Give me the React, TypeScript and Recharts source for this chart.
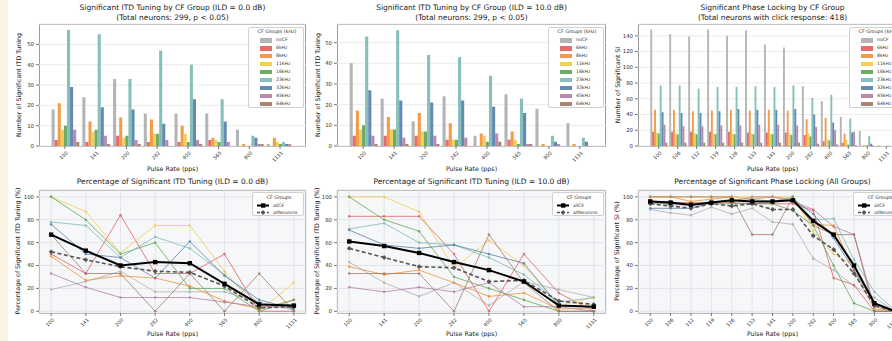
import React from "react";
import { BarChart, Bar, LineChart, Line, XAxis, YAxis, CartesianGrid } from "recharts";

const FONT = "'DejaVu Sans', sans-serif";

const GROUPS = ["noCF", "6kHz", "8kHz", "11kHz", "16kHz", "23kHz", "32kHz", "45kHz", "64kHz"];
const GROUP_COLORS = ["#ababab", "#e15759", "#f28e2b", "#edc948", "#59a14f", "#76b7b2", "#4e79a7", "#b07aa1", "#9c755f"];

const ITD_RATES = ["100", "141", "200", "282", "400", "565", "800", "1131"];
const PL_RATES = ["100", "106", "112", "119", "126", "133", "141", "200", "282", "400", "565", "800", "1131"];

// counts of significant neurons, rows follow GROUPS
const itd0Counts = [
  [18, 24, 33, 16, 16, 16, 8, 1],
  [3, 2, 5, 2, 2, 3, 0, 0],
  [21, 12, 14, 13, 10, 4, 1, 4],
  [8, 7, 4, 6, 6, 3, 0, 2],
  [10, 8, 5, 6, 2, 2, 0, 1],
  [57, 55, 33, 47, 40, 23, 5, 2],
  [29, 19, 18, 11, 23, 12, 4, 1],
  [8, 5, 3, 3, 3, 2, 1, 1],
  [2, 1, 1, 0, 1, 0, 1, 0],
];
const itd10Counts = [
  [40, 23, 12, 24, 5, 25, 18, 11],
  [5, 5, 5, 3, 0, 3, 0, 0],
  [17, 14, 16, 11, 6, 7, 1, 1],
  [8, 8, 7, 3, 5, 3, 0, 0],
  [10, 8, 7, 3, 2, 1, 0, 0],
  [53, 56, 44, 43, 34, 23, 5, 4],
  [27, 22, 21, 22, 19, 16, 2, 2],
  [5, 4, 5, 4, 6, 1, 1, 0],
  [1, 1, 1, 0, 2, 1, 0, 0],
];
const plCounts = [
  [148, 142, 139, 148, 140, 147, 129, 125, 76, 57, 37, 19, 1],
  [18, 18, 18, 18, 18, 17, 17, 17, 14, 6, 4, 0, 0],
  [46, 46, 44, 45, 46, 45, 46, 45, 34, 36, 16, 1, 0],
  [17, 16, 16, 16, 16, 16, 16, 16, 16, 9, 8, 1, 0],
  [16, 15, 15, 15, 15, 15, 15, 14, 12, 7, 2, 1, 0],
  [77, 77, 73, 75, 75, 76, 75, 77, 61, 65, 35, 13, 1],
  [43, 42, 42, 44, 47, 46, 46, 47, 40, 30, 17, 3, 0],
  [27, 25, 25, 26, 26, 27, 27, 26, 24, 20, 18, 1, 0],
  [4, 4, 4, 4, 4, 4, 4, 4, 3, 2, 1, 0, 0],
];

// percentages, rows follow GROUPS
const itd0Pct = [
  [19, 26, 35, 17, 17, 17, 8, 1],
  [50, 33, 84, 33, 33, 50, 0, 0],
  [48, 27, 31, 29, 22, 9, 2, 10],
  [100, 87, 51, 75, 75, 35, 0, 25],
  [100, 80, 50, 60, 20, 20, 0, 10],
  [78, 75, 47, 65, 55, 32, 7, 3],
  [76, 50, 47, 29, 61, 31, 10, 2],
  [33, 21, 12, 12, 12, 8, 4, 4],
  [67, 33, 33, 0, 33, 0, 33, 0],
];
const itd0AllCF = [67, 53, 40, 43, 42, 24, 6, 5];
const itd0AllNeurons = [52, 45, 39, 35, 34, 22, 3, 4];

const itd10Pct = [
  [43, 25, 13, 25, 5, 26, 19, 12],
  [83, 83, 83, 50, 0, 50, 16, 0],
  [39, 32, 36, 25, 13, 16, 2, 3],
  [100, 100, 87, 38, 62, 40, 5, 12],
  [100, 80, 70, 30, 20, 10, 0, 0],
  [72, 77, 60, 58, 47, 32, 8, 12],
  [71, 58, 55, 58, 50, 42, 5, 4],
  [21, 17, 21, 17, 25, 4, 4, 0],
  [33, 33, 33, 0, 67, 25, 0, 0],
];
const itd10AllCF = [61, 57, 51, 43, 36, 26, 5, 4];
const itd10AllNeurons = [55, 47, 39, 38, 26, 27, 9, 6];

const plPct = [
  [89, 86, 84, 91, 85, 90, 78, 76, 46, 36, 22, 12, 0],
  [95, 95, 95, 95, 95, 94, 94, 94, 88, 29, 23, 0, 0],
  [100, 100, 96, 98, 100, 98, 100, 98, 76, 75, 35, 2, 0],
  [100, 100, 100, 100, 100, 100, 100, 100, 70, 50, 40, 5, 0],
  [94, 94, 94, 94, 94, 94, 94, 88, 75, 40, 7, 0, 0],
  [96, 96, 93, 96, 96, 98, 96, 100, 80, 81, 45, 17, 1],
  [90, 90, 90, 95, 97, 96, 96, 98, 85, 64, 36, 7, 0],
  [97, 93, 93, 96, 96, 100, 100, 96, 89, 74, 67, 4, 0],
  [100, 100, 100, 100, 100, 67, 67, 100, 75, 67, 67, 0, 0],
];
const plAllCF = [96, 95, 93, 95, 97, 96, 96, 97, 79, 67, 40, 7, 0];
const plAllNeurons = [94, 92, 90, 94, 92, 94, 89, 89, 66, 54, 33, 5, 0];

const COUNT_TICKS_ITD = [0, 10, 20, 30, 40, 50];
const COUNT_TICKS_PL = [0, 20, 40, 60, 80, 100, 120, 140];
const PCT_TICKS = [0, 20, 40, 60, 80, 100];

// layout
const PANEL_X = [39, 337, 638];
const PANEL_W = [267, 269, 269];
const TOP_Y = 24;
const TOP_H = 122;
const BOT_Y = 190;
const BOT_H = 123;
const YW = 26;
const XH = 24;
const PAD_T = 6;

function SlantTick({ x, y, payload }: any) {
  const s = String(payload.value);
  const px = x + 0.5;
  const py = y - 0.5;
  return (
    <text x={px} y={py} transform={`rotate(-45 ${px} ${py})`} textAnchor="end" dominantBaseline="hanging"
      fontSize={5} fill="#333" fontFamily={FONT}>{s}</text>
  );
}

const yTick = { fontSize: 5.4, fill: "#333", fontFamily: FONT };

function Frame({ x, y, w, h, bg }: { x: number; y: number; w: number; h: number; bg: string }) {
  return <div style={{ position: "absolute", left: x, top: y, width: w, height: h, boxSizing: "border-box", border: "1px solid #9a9a9a", background: bg }} />;
}

function Text({ x, y, size, children, rotate }: { x: number; y: number; size: number; children: React.ReactNode; rotate?: boolean }) {
  return (
    <div style={{ position: "absolute", left: x, top: y, transform: `translate(-50%,-50%)${rotate ? " rotate(-90deg)" : ""}`, whiteSpace: "nowrap", fontSize: size, fontFamily: FONT, color: "#222", lineHeight: 1 }}>
      {children}
    </div>
  );
}

function BarPanel({ idx, rates, counts, yMax, ticks }: { idx: number; rates: string[]; counts: number[][]; yMax: number; ticks: number[] }) {
  const fx = PANEL_X[idx];
  const fw = PANEL_W[idx];
  const n = rates.length;
  const unit = fw / ((n - 1 + 0.9) * 1.1);
  const pad = (0.05 * (n - 1 + 0.9) - 0.05) * unit;
  const data = rates.map((r, i) => {
    const row: Record<string, any> = { rate: r };
    counts.forEach((c, g) => (row["g" + g] = c[i]));
    return row;
  });
  return (
    <div style={{ position: "absolute", left: fx - YW, top: TOP_Y - PAD_T }}>
      <BarChart width={fw + YW + 1} height={TOP_H + PAD_T + XH} data={data} margin={{ top: PAD_T, right: 1, left: 0, bottom: 0 }}
        barCategoryGap={0} barGap={0} barSize={unit * 0.1}>
        <CartesianGrid vertical={false} stroke="#ececec" />
        <XAxis dataKey="rate" height={XH} interval={0} tickSize={3} axisLine={false} tickLine={{ stroke: "#777" }}
          tick={<SlantTick />} padding={{ left: pad, right: pad }} />
        <YAxis width={YW} domain={[0, yMax]} ticks={ticks} interval={0} allowDataOverflow tickSize={3} axisLine={false}
          tickLine={{ stroke: "#777" }} tick={yTick} />
        {GROUPS.map((g, i) => (
          <Bar key={g} dataKey={"g" + i} name={g} fill={GROUP_COLORS[i]} fillOpacity={0.88} isAnimationActive={false} />
        ))}
      </BarChart>
    </div>
  );
}

function squareDot(p: any) {
  return <rect key={`sq-${p.index}`} x={p.cx - 2.2} y={p.cy - 2.2} width={4.4} height={4.4} fill="#000" />;
}
function diamondDot(p: any) {
  const r = 2.4;
  return <path key={`dm-${p.index}`} d={`M${p.cx},${p.cy - r}L${p.cx + r},${p.cy}L${p.cx},${p.cy + r}L${p.cx - r},${p.cy}Z`} fill="#555" />;
}

function LinePanel({ idx, rates, pct, allCF, allNeurons }: { idx: number; rates: string[]; pct: number[][]; allCF: number[]; allNeurons: number[] }) {
  const fx = PANEL_X[idx];
  const fw = PANEL_W[idx];
  const pad = fw / 22;
  const data = rates.map((r, i) => {
    const row: Record<string, any> = { rate: r, allCF: allCF[i], allNeurons: allNeurons[i] };
    pct.forEach((c, g) => (row["g" + g] = c[i]));
    return row;
  });
  return (
    <div style={{ position: "absolute", left: fx - YW, top: BOT_Y - PAD_T }}>
      <LineChart width={fw + YW + 1} height={BOT_H + PAD_T + XH} data={data} margin={{ top: PAD_T, right: 1, left: 0, bottom: 0 }}>
        <CartesianGrid stroke="#e2e4e8" />
        <XAxis dataKey="rate" height={XH} interval={0} tickSize={3} axisLine={false} tickLine={{ stroke: "#777" }}
          tick={<SlantTick />} padding={{ left: pad, right: pad }} />
        <YAxis width={YW} domain={[-1.5, 106]} ticks={PCT_TICKS} interval={0} allowDataOverflow tickSize={3} axisLine={false}
          tickLine={{ stroke: "#777" }} tick={yTick} />
        {GROUPS.map((g, i) => (
          <Line key={g} dataKey={"g" + i} name={g} stroke={GROUP_COLORS[i]} strokeOpacity={0.75} strokeWidth={1}
            dot={{ r: 1.3, fill: GROUP_COLORS[i], stroke: "none", fillOpacity: 0.75 }} isAnimationActive={false} />
        ))}
        <Line dataKey="allNeurons" stroke="#555" strokeWidth={1.6} strokeDasharray="4 2.5" dot={diamondDot} isAnimationActive={false} />
        <Line dataKey="allCF" stroke="#000" strokeWidth={2} dot={squareDot} isAnimationActive={false} />
      </LineChart>
    </div>
  );
}

function BarLegend({ idx }: { idx: number }) {
  const right = PANEL_X[idx] + PANEL_W[idx];
  return (
    <div style={{ position: "absolute", left: right - 58, top: 27, width: 56, height: 81, boxSizing: "border-box", border: "1px solid #d0d0d0", borderRadius: 2, background: "rgba(255,255,255,0.85)", fontFamily: FONT, color: "#333" }}>
      <div style={{ position: "absolute", left: 0, width: 56, top: 2, textAlign: "center", fontSize: 4.8, lineHeight: 1 }}>CF Groups (kHz)</div>
      {GROUPS.map((g, i) => (
        <div key={g} style={{ position: "absolute", left: 11, top: 12.3 + i * 7.95 - 3, height: 6, display: "flex", alignItems: "center", fontSize: 4.6, lineHeight: 1 }}>
          <span style={{ display: "inline-block", width: 12, height: 4.5, background: GROUP_COLORS[i], opacity: 0.88, marginRight: 4 }} />
          {g}
        </div>
      ))}
    </div>
  );
}

function LineLegend({ idx }: { idx: number }) {
  const right = PANEL_X[idx] + PANEL_W[idx];
  return (
    <div style={{ position: "absolute", left: right - 54, top: 192, width: 52, height: 24, boxSizing: "border-box", border: "1px solid #d0d0d0", borderRadius: 2, background: "rgba(255,255,255,0.85)", fontFamily: FONT, color: "#333" }}>
      <div style={{ position: "absolute", left: 0, width: 52, top: 3, textAlign: "center", fontSize: 4.8, lineHeight: 1 }}>CF Groups</div>
      <svg style={{ position: "absolute", left: 3, top: 9 }} width={14} height={14}>
        <line x1={1} y1={3.5} x2={13} y2={3.5} stroke="#000" strokeWidth={2} />
        <rect x={5} y={1.3} width={4.4} height={4.4} fill="#000" />
        <line x1={1} y1={10.5} x2={13} y2={10.5} stroke="#555" strokeWidth={1.4} strokeDasharray="3 2" />
        <path d="M7,8.1L9.4,10.5L7,12.9L4.6,10.5Z" fill="#555" />
      </svg>
      <div style={{ position: "absolute", left: 20, top: 10.5, fontSize: 4.6, lineHeight: 1 }}>allCF</div>
      <div style={{ position: "absolute", left: 20, top: 17.5, fontSize: 4.6, lineHeight: 1 }}>allNeurons</div>
    </div>
  );
}

const TOP_TITLES = [
  ["Significant ITD Tuning by CF Group (ILD = 0.0 dB)", "(Total neurons: 299, p < 0.05)"],
  ["Significant ITD Tuning by CF Group (ILD = 10.0 dB)", "(Total neurons: 299, p < 0.05)"],
  ["Significant Phase Locking by CF Group", "(Total neurons with click response: 418)"],
];
const BOT_TITLES = [
  "Percentage of Significant ITD Tuning (ILD = 0.0 dB)",
  "Percentage of Significant ITD Tuning (ILD = 10.0 dB)",
  "Percentage of Significant Phase Locking (All Groups)",
];
const TOP_YLABELS = ["Number of Significant ITD Tuning", "Number of Significant ITD Tuning", "Number of Significant SI"];
const BOT_YLABELS = ["Percentage of Significant ITD Tuning (%)", "Percentage of Significant ITD Tuning (%)", "Percentage of Significant SI (%)"];
const YLABEL_X = [19, 318, 618];

export default function App() {
  return (
    <div style={{ position: "relative", width: 892, height: 341, overflow: "hidden", background: "#fff" }}>
      <style>{"body{margin:0}"}</style>
      <div style={{ position: "absolute", left: 0, top: 0, width: 8, height: 341, background: "#fdf3e3" }} />
      {[0, 1, 2].map((i) => (
        <React.Fragment key={"f" + i}>
          <Frame x={PANEL_X[i]} y={TOP_Y} w={PANEL_W[i]} h={TOP_H + 1} bg="#fff" />
          <Frame x={PANEL_X[i]} y={BOT_Y} w={PANEL_W[i]} h={BOT_H + 1} bg="#f6f7f9" />
        </React.Fragment>
      ))}
      <BarPanel idx={0} rates={ITD_RATES} counts={itd0Counts} yMax={60} ticks={COUNT_TICKS_ITD} />
      <BarPanel idx={1} rates={ITD_RATES} counts={itd10Counts} yMax={59} ticks={COUNT_TICKS_ITD} />
      <BarPanel idx={2} rates={PL_RATES} counts={plCounts} yMax={155} ticks={COUNT_TICKS_PL} />
      <LinePanel idx={0} rates={ITD_RATES} pct={itd0Pct} allCF={itd0AllCF} allNeurons={itd0AllNeurons} />
      <LinePanel idx={1} rates={ITD_RATES} pct={itd10Pct} allCF={itd10AllCF} allNeurons={itd10AllNeurons} />
      <LinePanel idx={2} rates={PL_RATES} pct={plPct} allCF={plAllCF} allNeurons={plAllNeurons} />
      {[0, 1, 2].map((i) => {
        const cx = PANEL_X[i] + PANEL_W[i] / 2;
        return (
          <React.Fragment key={"t" + i}>
            <BarLegend idx={i} />
            <LineLegend idx={i} />
            <Text x={cx} y={8} size={7.5}>{TOP_TITLES[i][0]}</Text>
            <Text x={cx} y={18} size={7.5}>{TOP_TITLES[i][1]}</Text>
            <Text x={cx} y={182} size={7.5}>{BOT_TITLES[i]}</Text>
            <Text x={cx} y={169} size={6.3}>Pulse Rate (pps)</Text>
            <Text x={cx} y={333.5} size={6.3}>Pulse Rate (pps)</Text>
            <Text x={YLABEL_X[i]} y={85} size={6.3} rotate>{TOP_YLABELS[i]}</Text>
            <Text x={YLABEL_X[i] - 1} y={251} size={6.3} rotate>{BOT_YLABELS[i]}</Text>
          </React.Fragment>
        );
      })}
    </div>
  );
}
